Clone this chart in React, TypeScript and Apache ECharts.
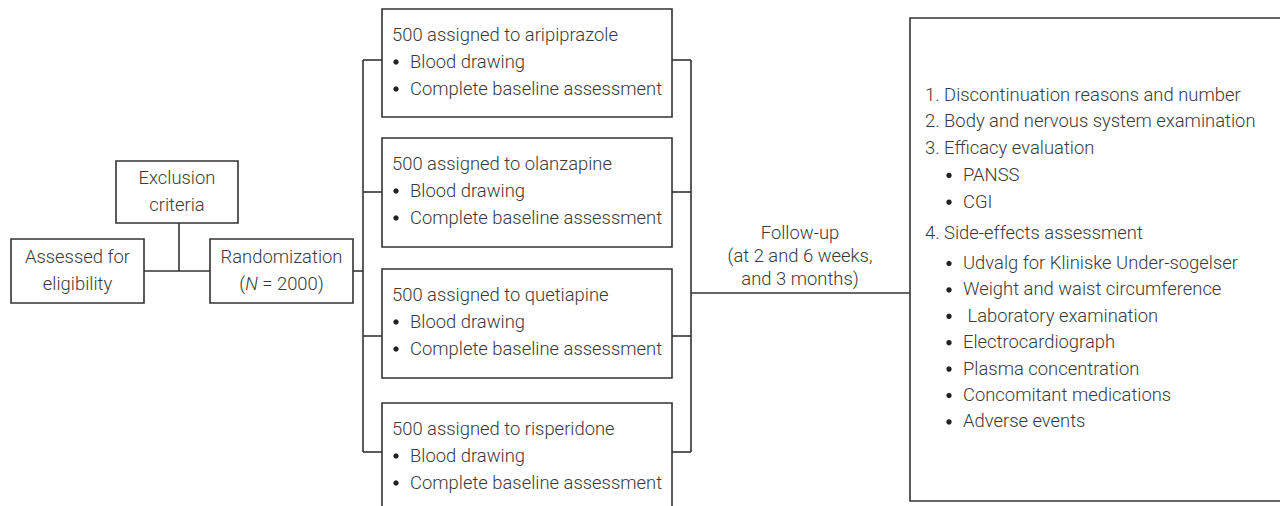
import React, { useEffect, useRef } from "react";
import * as echarts from "echarts";

// ---- content (the flowchart's "data") ----
const screeningLabel = ["Assessed for", "eligibility"];
const exclusionLabel = ["Exclusion", "criteria"];
const randomizationLabel = ["Randomization", "(N = 2000)"];
const armDrugs = ["aripiprazole", "olanzapine", "quetiapine", "risperidone"];
const armSizes = [500, 500, 500, 500];
const armTasks = ["Blood drawing", "Complete baseline assessment"];
const followUpLabel = ["Follow-up", "(at 2 and 6 weeks,", "and 3 months)"];
const outcomeSections = ["1. Discontinuation reasons and number", "2. Body and nervous system examination", "3. Efficacy evaluation", "4. Side-effects assessment"];
const efficacyItems = ["PANSS", "CGI"];
const sideEffectItems = [
  "Udvalg for Kliniske Under-sogelser",
  "Weight and waist circumference",
  " Laboratory examination",
  "Electrocardiograph",
  "Plasma concentration",
  "Concomitant medications",
  "Adverse events",
];

// ---- layout ----
const FONT = "Roboto, 'Liberation Sans', sans-serif";
const FS = 18.4;
const TEXT_COLOR = "#3a3a3a";
const LINE_COLOR = "#333333";
const LW = 1.6;

const armBoxTops = [9, 138, 269, 403];
const armBoxBottoms = [117, 247, 378, 560];
const armStubYs = [60, 192, 336, 452];
const ARM_X0 = 382;
const ARM_X1 = 672;
const LEFT_BRACKET_X = 363;
const RIGHT_BRACKET_X = 691;

function rect(x0: number, y0: number, x1: number, y1: number) {
  return {
    type: "rect",
    shape: { x: x0, y: y0, width: x1 - x0, height: y1 - y0 },
    style: { fill: "#fff", stroke: LINE_COLOR, lineWidth: LW },
    silent: true,
  };
}
function line(x1: number, y1: number, x2: number, y2: number) {
  return {
    type: "line",
    shape: { x1, y1, x2, y2 },
    style: { stroke: LINE_COLOR, lineWidth: LW },
    silent: true,
  };
}
function text(str: string, x: number, y: number, align: string = "left") {
  return {
    type: "text",
    x,
    y,
    style: {
      text: str,
      x: 0,
      y: 0,
      fill: TEXT_COLOR,
      fontSize: FS,
      fontFamily: FONT,
      fontWeight: 300,
      align,
      verticalAlign: "middle",
    },
    silent: true,
  };
}
function bullet(x: number, y: number) {
  return {
    type: "circle",
    shape: { cx: x, cy: y + 1, r: 2.7 },
    style: { fill: "#222" },
    silent: true,
  };
}

export default function App() {
  const ref = useRef<HTMLDivElement>(null);
  useEffect(() => {
    if (!ref.current) return;
    const chart = echarts.init(ref.current, undefined, { renderer: "svg" });
    const els: any[] = [];

    // connectors (drawn first, under boxes)
    els.push(line(144, 271, 210, 271));
    els.push(line(179, 223, 179, 271));
    els.push(line(353, 271, LEFT_BRACKET_X, 271));
    els.push(line(LEFT_BRACKET_X, armStubYs[0], LEFT_BRACKET_X, armStubYs[armStubYs.length - 1]));
    els.push(line(RIGHT_BRACKET_X, armStubYs[0], RIGHT_BRACKET_X, armStubYs[armStubYs.length - 1]));
    armStubYs.forEach((y) => {
      els.push(line(LEFT_BRACKET_X, y, ARM_X0, y));
      els.push(line(ARM_X1, y, RIGHT_BRACKET_X, y));
    });
    els.push(line(RIGHT_BRACKET_X, 293, 910, 293));

    // left boxes
    els.push(rect(116, 161, 238, 223));
    els.push(text(exclusionLabel[0], 177, 177, "center"));
    els.push(text(exclusionLabel[1], 177, 204, "center"));

    els.push(rect(11, 239, 144, 303));
    els.push(text(screeningLabel[0], 77.5, 256, "center"));
    els.push(text(screeningLabel[1], 77.5, 283, "center"));

    els.push(rect(210, 239, 353, 303));
    els.push(text(randomizationLabel[0], 281.5, 256, "center"));
    const nParts = randomizationLabel[1].match(/^\((N)(.*)$/);
    els.push({
      type: "text",
      x: 281.5,
      y: 283,
      style: {
        text: nParts ? `{n|(}{i|${nParts[1]}}{n|${nParts[2]}}` : randomizationLabel[1],
        align: "center",
        verticalAlign: "middle",
        fill: TEXT_COLOR,
        fontSize: FS,
        fontFamily: FONT,
        fontWeight: 300,
        rich: {
          n: { fontSize: FS, fontFamily: FONT, fontWeight: 300, fill: TEXT_COLOR },
          i: { fontSize: FS, fontFamily: FONT, fontWeight: 300, fontStyle: "italic", fill: TEXT_COLOR },
        },
      },
      silent: true,
    });

    // arm boxes
    armDrugs.forEach((drug, i) => {
      const top = armBoxTops[i];
      els.push(rect(ARM_X0, top, ARM_X1, armBoxBottoms[i]));
      els.push(text(`${armSizes[i]} assigned to ${drug}`, 392, top + 25));
      armTasks.forEach((t, j) => {
        const y = top + 52 + j * 27;
        els.push(bullet(396, y));
        els.push(text(t, 410, y));
      });
    });

    // follow-up label
    followUpLabel.forEach((t, i) => els.push(text(t, 800, 232 + i * 23, "center")));

    // outcomes box
    els.push(rect(910, 18, 1300, 501));
    let y = 94;
    outcomeSections.slice(0, 3).forEach((s) => {
      els.push(text(s, 925, y));
      y += 26.8;
    });
    efficacyItems.forEach((s) => {
      els.push(bullet(949, y));
      els.push(text(s, 963, y));
      y += 26.8;
    });
    y += 4.5;
    els.push(text(outcomeSections[3], 925, y));
    y += 30;
    sideEffectItems.forEach((s) => {
      els.push(bullet(949, y));
      els.push(text(s, 963, y));
      y += 26.4;
    });

    chart.setOption({
      animation: false,
      backgroundColor: "#ffffff",
      graphic: { elements: els },
    });
    return () => chart.dispose();
  }, []);
  return (
    <div
      ref={ref}
      style={{ position: "fixed", left: 0, top: 0, width: 1280, height: 506 }}
    />
  );
}
